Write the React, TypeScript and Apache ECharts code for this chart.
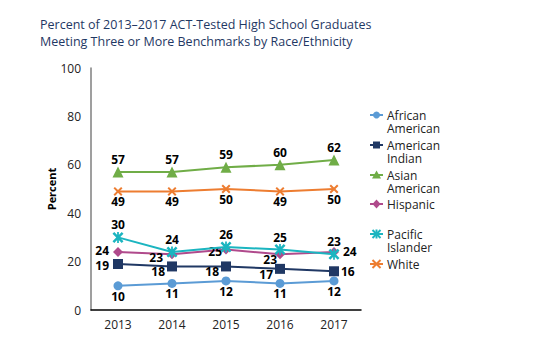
import React, { useEffect, useRef } from 'react';
import * as echarts from 'echarts';

const years = ['2013', '2014', '2015', '2016', '2017'];
const seriesNames = ['African American', 'American Indian', 'Asian American', 'Hispanic', 'Pacific Islander', 'White'];
const legendLabels = [['African', 'American'], ['American', 'Indian'], ['Asian', 'American'], ['Hispanic'], ['Pacific', 'Islander'], ['White']];
const africanAmerican = [10, 11, 12, 11, 12];
const americanIndian = [19, 18, 18, 17, 16];
const asianAmerican = [57, 57, 59, 60, 62];
const hispanic = [24, 23, 25, 23, 24];
const pacificIslander = [30, 24, 26, 25, 23];
const white = [49, 49, 50, 49, 50];
const yMin = 0;
const yMax = 100;
const yInterval = 20;

const colors = ['#5b9bd5', '#203864', '#70ad47', '#b04a8c', '#1bb5c0', '#ed7d31'];

const X_PATH = 'M0,1.6 L1.6,0 L5,3.4 L8.4,0 L10,1.6 L6.6,5 L10,8.4 L8.4,10 L5,6.6 L1.6,10 L0,8.4 L3.4,5 Z';
const AST_PATH = X_PATH + ' M4.2,0 L5.8,0 L5.8,10 L4.2,10 Z';
const symbols = ['circle', 'rect', 'triangle', 'diamond', 'path://' + AST_PATH, 'path://' + X_PATH];
const symbolSizes = [9, 10, 11, 10, 11, 9];

// label placement per point: [position, offsetX, offsetY]
type P = [string, number, number];
const placeAA: P[] = [['bottom', 0, 0], ['bottom', 0, 0], ['bottom', 0, 0], ['bottom', 0, 0], ['bottom', 0, 0]];
const placeAI: P[] = [['left', 0, 1], ['left', 2, 5], ['left', 2, 5], ['left', 2, 6], ['right', -2, 0]];
const placeAS: P[] = [['top', 0, 0], ['top', 0, 0], ['top', 0, 0], ['top', 0, 0], ['top', 0, 0]];
const placeHI: P[] = [['left', 0, -1], ['left', 0, 3], ['left', 5, 2], ['left', 6, 5], ['right', 0, 0]];
const placePI: P[] = [['top', 0, 0], ['top', 0, 0], ['top', 0, 0], ['top', 0, 0], ['top', 0, 0]];
const placeWH: P[] = [['bottom', 0, 0], ['bottom', 0, 0], ['bottom', 0, 0], ['bottom', 0, 0], ['bottom', 0, 0]];

const allData = [africanAmerican, americanIndian, asianAmerican, hispanic, pacificIslander, white];
const allPlace = [placeAA, placeAI, placeAS, placeHI, placePI, placeWH];

const FONT = '"Open Sans", sans-serif';

function legendSymbol(i: number, cx: number, cy: number, color: string): any {
  const style = { fill: color };
  switch (i) {
    case 0:
      return { type: 'circle', shape: { cx, cy, r: 3.5 }, style };
    case 1:
      return { type: 'rect', shape: { x: cx - 3.5, y: cy - 3.5, width: 7, height: 7 }, style };
    case 2:
      return { type: 'polygon', shape: { points: [[cx, cy - 4.5], [cx + 4.5, cy + 3.5], [cx - 4.5, cy + 3.5]] }, style };
    case 3:
      return { type: 'polygon', shape: { points: [[cx, cy - 4.5], [cx + 4, cy], [cx, cy + 4.5], [cx - 4, cy]] }, style };
    default: {
      const s = 4;
      const lines: any[] = [
        { type: 'line', shape: { x1: cx - s, y1: cy - s, x2: cx + s, y2: cy + s }, style: { stroke: color, lineWidth: 2 } },
        { type: 'line', shape: { x1: cx - s, y1: cy + s, x2: cx + s, y2: cy - s }, style: { stroke: color, lineWidth: 2 } },
      ];
      if (i === 4) {
        lines.push({ type: 'line', shape: { x1: cx, y1: cy - s - 0.5, x2: cx, y2: cy + s + 0.5 }, style: { stroke: color, lineWidth: 2 } });
      }
      return { type: 'group', children: lines };
    }
  }
}

export default function App() {
  const ref = useRef<HTMLDivElement>(null);
  useEffect(() => {
    if (!ref.current) return;
    const chart = echarts.init(ref.current, undefined, { renderer: 'svg' });

    const legendTops = [115, 145, 175, 204, 234, 264];
    const legendGraphics: any[] = [];
    legendLabels.forEach((lines, i) => {
      const y = legendTops[i];
      legendGraphics.push({
        type: 'line',
        shape: { x1: 370, y1: y, x2: 383, y2: y },
        style: { stroke: colors[i], lineWidth: 2 },
      });
      legendGraphics.push(legendSymbol(i, 376.5, y, colors[i]));
      lines.forEach((line, k) => {
        legendGraphics.push({
          type: 'text',
          x: 387,
          y: y + k * 13.5,
          style: {
            text: line,
            fill: '#222',
            font: '12px ' + FONT,
            lineHeight: 12,
            verticalAlign: 'middle',
            align: 'left',
          },
        });
      });
    });

    const series = seriesNames.map((name, i) => ({
      name,
      type: 'line',
      symbol: symbols[i],
      symbolSize: symbolSizes[i],
      color: colors[i],
      lineStyle: { width: 2, color: colors[i] },
      itemStyle: { color: colors[i] },
      data: allData[i].map((v, j) => {
        const [pos, ox, oy] = allPlace[i][j];
        return {
          value: v,
          label: {
            position: pos,
            offset: [ox, oy],
            distance: pos === 'bottom' ? 0 : pos === 'top' ? 1 : 4,
          },
        };
      }),
      label: {
        show: true,
        color: '#000',
        fontWeight: 'bold',
        fontSize: 12,
        lineHeight: 12,
        fontFamily: FONT,
      },
      z: 2 + i,
    }));

    chart.setOption({
      animation: false,
      backgroundColor: '#fff',
      title: {
        text: 'Percent of 2013–2017 ACT-Tested High School Graduates\nMeeting Three or More Benchmarks by Race/Ethnicity',
        left: 40,
        top: 16,
        padding: 0,
        textStyle: {
          fontSize: 12.5,
          fontWeight: 'normal',
          color: '#1f3864',
          lineHeight: 17,
          fontFamily: FONT,
        },
      },
      grid: { left: 91, right: 172, top: 68, bottom: 41, containLabel: false },
      xAxis: {
        type: 'category',
        data: years,
        boundaryGap: true,
        axisLine: { lineStyle: { color: '#000', width: 1.5 } },
        axisTick: { show: false },
        axisLabel: { color: '#222', fontSize: 12, margin: 8, fontFamily: FONT },
        splitLine: { show: false },
      },
      yAxis: {
        type: 'value',
        min: yMin,
        max: yMax,
        interval: yInterval,
        name: 'Percent',
        nameLocation: 'middle',
        nameGap: 34,
        nameRotate: 90,
        nameMoveOverlap: false,
        nameTextStyle: { color: '#000', fontWeight: 'bold', fontSize: 11, fontFamily: FONT },
        axisLine: { show: true, lineStyle: { color: '#7f7f7f', width: 1.5 } },
        axisTick: { show: false },
        axisLabel: { color: '#222', fontSize: 12, margin: 10, fontFamily: FONT },
        splitLine: { show: false },
      },
      series,
      graphic: legendGraphics,
    });

    return () => chart.dispose();
  }, []);

  return (
    <div
      ref={ref}
      style={{ position: 'fixed', left: 0, top: 0, width: 533, height: 351 }}
    />
  );
}
